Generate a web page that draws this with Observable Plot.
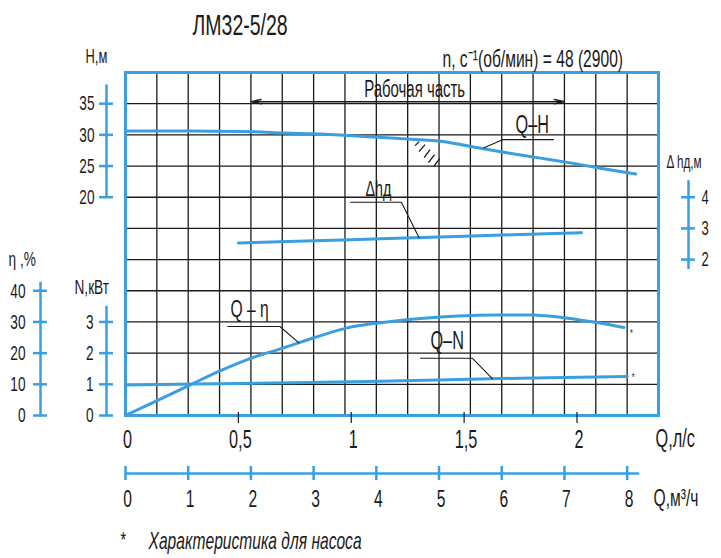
<!DOCTYPE html>
<html>
<head>
<meta charset="utf-8">
<script src="https://cdn.jsdelivr.net/npm/d3@7"></script>
<script src="https://cdn.jsdelivr.net/npm/@observablehq/plot@0.6"></script>
<style>
  html, body { margin: 0; padding: 0; background: #fff; }
  #chart svg { display: block; }
</style>
</head>
<body>
<div id="chart"></div>
<script>
// ---- data (Q in l/s) ----
const qH   = [0, 0.28, 0.56, 0.70, 0.86, 0.95, 1.196, 1.396, 1.536, 1.676, 1.817, 1.957, 2.097, 2.26];
const H    = [30.62, 30.62, 30.51, 30.30, 30.14, 29.99, 29.44, 28.96, 28.11, 27.20, 26.39, 25.59, 24.70, 23.73];
const qEta = [0, 0.140, 0.280, 0.421, 0.561, 0.701, 0.842, 0.982, 1.122, 1.255, 1.396, 1.536, 1.676, 1.809, 1.950, 2.090, 2.208];
const eta  = [0, 4.8, 9.6, 14.4, 18.5, 21.7, 25.1, 28.1, 29.7, 30.8, 31.6, 32.1, 32.2, 32.2, 31.3, 29.8, 28.2];
const qN   = [0, 0.5, 1.13, 1.617, 2.223];
const N    = [0.98, 1.03, 1.10, 1.18, 1.25];
const qDh  = [0.5, 1.0, 1.5, 2.02];
const dh   = [2.53, 2.64, 2.75, 2.86];

// ticks
const hTicks   = [20, 25, 30, 35];
const nTicks   = [0, 1, 2, 3];
const etaTicks = [0, 10, 20, 30, 40];
const dhTicks  = [2, 3, 4];
const lsTicks  = [0, 0.5, 1, 1.5, 2];
const lsLabels = ["0", "0,5", "1", "1,5", "2"];
const m3Ticks  = [0, 1, 2, 3, 4, 5, 6, 7, 8];
const workRange = [2, 7]; // m3/h

const M3 = 3.6;               // m3/h per l/s
const XMAX = 8.5 / M3;        // grid extent
const BLUE = "#3a9fe0";
const INK = "#1a1a1a";
const FONT = "'Liberation Sans', Arial, sans-serif";

// one common vertical grid unit (rows); each quantity maps to rows
const rowH = h => 7 + (h - 20) / 5;
const rowEta = e => e / 10;
const rowN = n => n;
const rowDh = d => d + 3;

const curveH = qH.map((q, i) => ({q, r: rowH(H[i])}));
const curveEta = qEta.map((q, i) => ({q, r: rowEta(eta[i])}));
const curveN = qN.map((q, i) => ({q, r: rowN(N[i])}));
const curveDh = qDh.map((q, i) => ({q, r: rowDh(dh[i])}));

// annotation leaders (Q l/s, rows)
const leaders = [
  {id: "H", pts: [[1.586, 8.58], [1.670, 8.846], [1.896, 8.846]]},
  {id: "dh", pts: [[0.997, 6.837], [1.222, 6.837], [1.300, 5.71]]},
  {id: "eta", pts: [[0.453, 2.853], [0.684, 2.853], [0.768, 2.33]]},
  {id: "N", pts: [[1.307, 1.837], [1.536, 1.837], [1.625, 1.18]]}
].flatMap(d => d.pts.map(([q, r]) => ({id: d.id, q, r})));
const labels = [
  {t: "Q–H", q: 1.728, r: 9.048, s: 25},
  {t: "Δhд", q: 1.063, r: 7.029, s: 22},
  {t: "Q – η", q: 0.465, r: 3.151, s: 24},
  {t: "Q–N", q: 1.351, r: 2.138, s: 25}
];
const stars = [{q: 2.241, r: 2.64}, {q: 2.249, r: 1.21}];
const hatch = [
  [1.283, 8.654, 1.301, 8.782],
  [1.300, 8.462, 1.327, 8.686],
  [1.323, 8.269, 1.349, 8.526],
  [1.342, 8.109, 1.369, 8.365],
  [1.365, 7.981, 1.391, 8.237]
];

const note = (text, dx, dy, o = {}) => Plot.text([text], {
  frameAnchor: "top-left", dx, dy, textAnchor: "start", lineAnchor: "bottom",
  text: d => d, fill: INK, ...o
});

const leftAxis = (ticks, toRow, y1, y2, off, labelOff, fs) => [
  Plot.ruleX([0], {x: 0, y1, y2, dx: off, stroke: BLUE, strokeWidth: 2.5}),
  Plot.ruleY(ticks, {y: toRow, x1: 0, x2: 0, insetLeft: -7, insetRight: -7, dx: off, stroke: BLUE, strokeWidth: 2.5}),
  Plot.text(ticks, {y: toRow, frameAnchor: "left", dx: labelOff, textAnchor: "end", text: d => String(d), fontSize: fs, fill: INK})
];

const wr = workRange.map(m => m / M3);
const mid = (wr[0] + wr[1]) / 2;

const chart = Plot.plot({
  width: 721,
  height: 558,
  marginLeft: 125,
  marginRight: 63,
  marginTop: 72,
  marginBottom: 143,
  x: {domain: [0, XMAX], axis: null},
  y: {domain: [0, 11], axis: null},
  style: {fontFamily: FONT, fontSize: "21px", background: "#fff", overflow: "visible"},
  marks: [
    // grid
    Plot.ruleX(d3.range(1, 17), {x: i => i * 0.5 / M3, stroke: INK, strokeWidth: 1.3}),
    Plot.ruleY(d3.range(1, 11), {y: d => d, stroke: INK, strokeWidth: 1.3}),
    // working range arrow
    Plot.arrow([wr[0], wr[1]], {x1: () => mid, x2: d => d, y1: () => 10.064, y2: () => 10.064,
      stroke: INK, strokeWidth: 1.4, headLength: 11, headAngle: 24}),
    Plot.text(["Рабочая часть"], {x: () => mid, y: () => 10.22, dx: 7, lineAnchor: "bottom", fontSize: 23, fill: INK}),
    // hatch
    Plot.link(hatch, {x1: d => d[0], y1: d => d[1], x2: d => d[2], y2: d => d[3], stroke: INK, strokeWidth: 1.3}),
    // frame
    Plot.frame({stroke: BLUE, strokeWidth: 3}),
    // curves
    Plot.line(curveH, {x: "q", y: "r", stroke: BLUE, strokeWidth: 3, curve: "catmull-rom"}),
    Plot.line(curveEta, {x: "q", y: "r", stroke: BLUE, strokeWidth: 3, curve: "catmull-rom"}),
    Plot.line(curveN, {x: "q", y: "r", stroke: BLUE, strokeWidth: 3, curve: "catmull-rom"}),
    Plot.line(curveDh, {x: "q", y: "r", stroke: BLUE, strokeWidth: 3, curve: "catmull-rom"}),
    // leaders & labels
    Plot.line(leaders, {x: "q", y: "r", z: "id", stroke: INK, strokeWidth: 1.1}),
    Plot.text(labels, {x: "q", y: "r", text: "t", fontSize: "s", textAnchor: "start", lineAnchor: "bottom", fill: INK}),
    Plot.text(stars, {x: "q", y: "r", text: () => "*", fontSize: 11, fill: INK}),
    // left axes
    ...leftAxis(hTicks, rowH, 7, 10.6, -19, -31, 21),
    ...leftAxis(nTicks, rowN, -0.05, 3.5, -19, -32, 21),
    ...leftAxis(etaTicks, rowEta, -0.05, 4.27, -85, -100, 21),
    // right axis (Δh)
    Plot.ruleX([XMAX], {x: d => d, y1: 4.68, y2: 7.53, dx: 30, stroke: BLUE, strokeWidth: 2.5}),
    Plot.ruleY(dhTicks, {y: rowDh, x1: XMAX, x2: XMAX, insetLeft: -7, insetRight: -7, dx: 30, stroke: BLUE, strokeWidth: 2.5}),
    Plot.text(dhTicks, {y: rowDh, frameAnchor: "right", dx: 43, textAnchor: "start", text: d => String(d), fontSize: 20, fill: INK}),
    // bottom l/s axis
    Plot.ruleX(lsTicks.slice(1), {x: d => d, y1: 0, y2: 0, insetTop: -3, insetBottom: -8, stroke: INK, strokeWidth: 1.2}),
    Plot.text(lsTicks, {x: d => d, y: () => 0, dx: 2, dy: 32, text: (d, i) => lsLabels[i], lineAnchor: "bottom", fontSize: 25, fill: INK}),
    // bottom m3/h axis
    Plot.ruleY([0], {y: 0, x1: 0, x2: 8.2 / M3, dy: 58, stroke: BLUE, strokeWidth: 2.5}),
    Plot.ruleX(m3Ticks, {x: d => d / M3, y1: 0, y2: 0, insetTop: -7, insetBottom: -7, dy: 58, stroke: BLUE, strokeWidth: 2.5}),
    Plot.text(m3Ticks, {x: d => d / M3, y: () => 0, dx: 2, dy: 91, text: d => String(d), lineAnchor: "bottom", fontSize: 24, fill: INK}),
    // titles and axis names
    note("ЛМ32-5/28", 67, -38, {fontSize: 30}),
    note("H,м", -40, -10, {fontSize: 20}),
    note("n, c⁻¹(об/мин) = 48 (2900)", 317, -5.5, {fontSize: 24}),
    note("Δ hд,м", 541, 95, {fontSize: 18}),
    note("η ,%", -117, 193, {fontSize: 21}),
    note("N,кВт", -51, 221, {fontSize: 21}),
    note("Q,л/с", 530, 374.7, {fontSize: 25}),
    note("Q,м³/ч", 528, 433, {fontSize: 24}),
    note("*", -5, 474, {fontSize: 22}),
    note("Характеристика для насоса", 23, 476.3, {fontSize: 24, fontStyle: "italic"})
  ]
});

document.getElementById("chart").appendChild(chart);

// narrow drafting-style lettering: condense every label horizontally
chart.querySelectorAll("text").forEach(t => {
  const w = t.getComputedTextLength();
  if (w > 0) {
    t.setAttribute("textLength", (w * 0.65).toFixed(1));
    t.setAttribute("lengthAdjust", "spacingAndGlyphs");
  }
});
</script>
</body>
</html>
